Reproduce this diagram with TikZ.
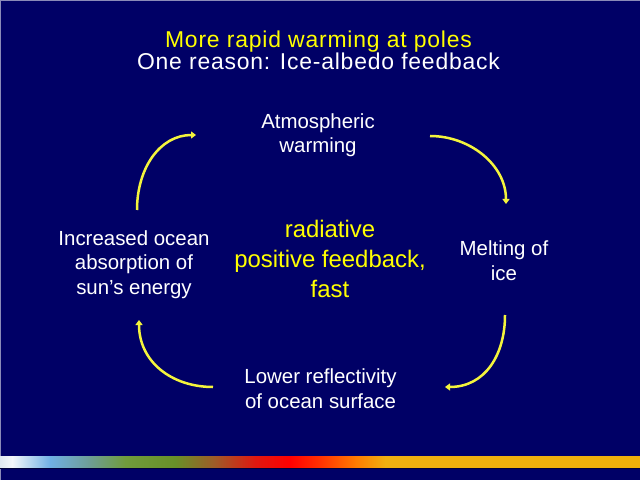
\documentclass[tikz,border=0pt]{standalone}
\usepackage{fontspec}
\setmainfont{Liberation Sans}
\newfontfamily\titlefont[LetterSpace=3.5]{Liberation Sans}
\usetikzlibrary{arrows.meta}
\definecolor{bg}{HTML}{000066}
\definecolor{ylw}{HTML}{FFFF00}
\definecolor{arr}{HTML}{F4F43C}
\definecolor{edge}{HTML}{8A8AB8}
\definecolor{shadow}{HTML}{00003A}
\definecolor{c0}{RGB}{224,232,240}
\definecolor{c1}{RGB}{244,247,250}
\definecolor{c2}{RGB}{112,176,228}
\definecolor{c3}{RGB}{110,158,152}
\definecolor{c4}{RGB}{112,156,60}
\definecolor{c5}{RGB}{104,144,40}
\definecolor{c6}{RGB}{160,90,40}
\definecolor{c7}{RGB}{224,24,16}
\definecolor{c8}{RGB}{255,0,0}
\definecolor{c9}{RGB}{255,50,0}
\definecolor{c10}{RGB}{255,122,0}
\definecolor{c11}{RGB}{240,176,16}
\definecolor{c12}{RGB}{240,176,10}
\begin{document}
\begin{tikzpicture}[x=1bp,y=-1bp,
  side/.style={text=white, align=center, inner sep=0pt, anchor=base, font=\fontsize{20.5}{24.5}\selectfont},
  mid/.style={text=ylw, align=center, inner sep=0pt, anchor=base, font=\fontsize{24}{30}\selectfont},
  ttl/.style={inner sep=0pt, anchor=base, font=\titlefont\fontsize{23}{23}\selectfont},
  cyc/.style={draw=arr, line width=2.5bp, -{Triangle[length=5bp,width=7bp]}},
  seg/.style={draw=none}
]
\useasboundingbox (0,0) rectangle (640,480);
\fill[bg] (0,0) rectangle (640,480);
\draw[edge, line width=1bp] (0.5,480) -- (0.5,0.5) -- (640,0.5);

% title
\node[ttl, text=ylw] (t1) at (318.5,48) {More rapid warming at poles};
\node[ttl, text=white] (t2) at (318.5,70) {One reason: Ice-albedo feedback};

% cycle texts (base = baseline of last line)
\node[side] (atm) at (318,153) {Atmospheric\\warming};
\node[side] (melt) at (504,280) {Melting of\\ice};
\node[side] (lower) at (320.5,408) {Lower reflectivity\\of ocean surface};
\node[side] (ocean) at (134,294) {Increased ocean\\absorption of\\sun’s energy};
\node[mid] (centre) at (330,297) {radiative\\positive feedback,\\fast};

% arrow end points
\coordinate (a1s) at (137,210); \coordinate (a1e) at (196,135);
\coordinate (a2s) at (430,136); \coordinate (a2e) at (506,204);
\coordinate (a3s) at (505,315); \coordinate (a3e) at (445,387);
\coordinate (a4s) at (213,387); \coordinate (a4e) at (139,320);

\draw[cyc] (a1s) .. controls (137,168) and (160,135) .. (a1e);
\draw[cyc] (a2s) .. controls (470,136) and (506,165) .. (a2e);
\draw[cyc] (a3s) .. controls (505,355) and (485,387) .. (a3e);
\draw[cyc] (a4s) .. controls (172,387) and (139,362) .. (a4e);

% bottom colour bar
\def\by{456}\def\bz{467}
\fill[shadow] (0,\bz) rectangle (640,468.5);
\shade[seg, left color=c0, right color=c1] (0,\by) rectangle (12.5,\bz);
\shade[seg, left color=c1, right color=c2] (12,\by) rectangle (50.5,\bz);
\shade[seg, left color=c2, right color=c3] (50,\by) rectangle (88.5,\bz);
\shade[seg, left color=c3, right color=c4] (88,\by) rectangle (125.5,\bz);
\shade[seg, left color=c4, right color=c5] (125,\by) rectangle (175.5,\bz);
\shade[seg, left color=c5, right color=c6] (175,\by) rectangle (215.5,\bz);
\shade[seg, left color=c6, right color=c7] (215,\by) rectangle (255.5,\bz);
\shade[seg, left color=c7, right color=c8] (255,\by) rectangle (290.5,\bz);
\shade[seg, left color=c8, right color=c9] (290,\by) rectangle (320.5,\bz);
\shade[seg, left color=c9, right color=c10] (320,\by) rectangle (355.5,\bz);
\shade[seg, left color=c10, right color=c11] (355,\by) rectangle (385.5,\bz);
\shade[seg, left color=c11, right color=c12] (385,\by) rectangle (640,\bz);
\end{tikzpicture}
\end{document}
